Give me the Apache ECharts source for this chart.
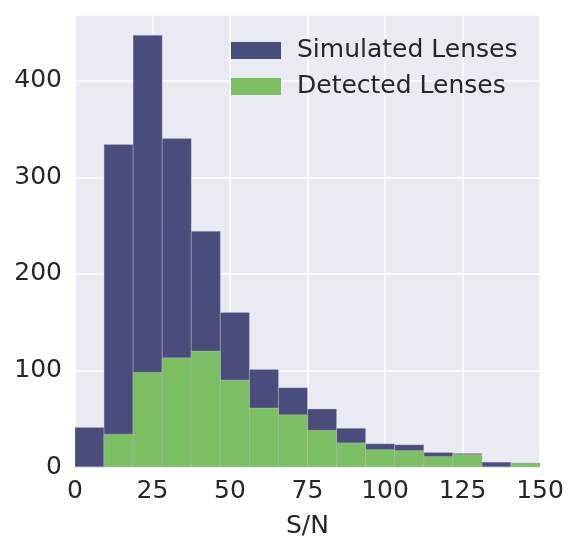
<!DOCTYPE html>
<html>
<head>
<meta charset="utf-8">
<script src="https://cdn.jsdelivr.net/npm/echarts@6/dist/echarts.min.js"></script>
<style>
html, body { margin: 0; padding: 0; background: #fff; }
#chart { width: 579px; height: 554px; }
</style>
</head>
<body>
<div id="chart"></div>
<script>
// bin edges (S/N), 16 bins from 0 to 150
var binEdges = [0, 9.375, 18.75, 28.125, 37.5, 46.875, 56.25, 65.625, 75, 84.375, 93.75, 103.125, 112.5, 121.875, 131.25, 140.625, 150];
// counts per bin
var simulated = [41, 334, 447, 340, 244, 160, 101, 82, 60, 40, 24, 23, 15, 14, 5, 4];
var detected  = [0, 34, 98, 113, 120, 90, 61, 54, 38, 25, 18, 17, 11, 13, 0, 4];
var xTicks = [0, 25, 50, 75, 100, 125, 150];
var yTicks = [0, 100, 200, 300, 400];

var FONT = 'DejaVu Sans';
var PURPLE = '#4a4c7c';
var GREEN = '#7dbf63';

function toBins(counts) {
    var out = [];
    for (var i = 0; i < counts.length; i++) {
        out.push([binEdges[i], binEdges[i + 1], counts[i]]);
    }
    return out;
}

function renderBar(color) {
    return function (params, api) {
        var p0 = api.coord([api.value(0), api.value(2)]);
        var p1 = api.coord([api.value(1), 0]);
        return {
            type: 'rect',
            shape: { x: p0[0], y: p0[1], width: p1[0] - p0[0], height: p1[1] - p0[1] },
            style: { fill: color, stroke: 'rgba(200,200,215,0.6)', lineWidth: 0.6 }
        };
    };
}

var option = {
    animation: false,
    backgroundColor: '#ffffff',
    grid: { left: 75, right: 39, top: 15, bottom: 87, backgroundColor: '#eaeaf2', show: true, borderWidth: 0 },
    legend: {
        left: 226, top: 33,
        orient: 'vertical',
        itemWidth: 50, itemHeight: 17, itemGap: 11,
        icon: 'rect',
        textStyle: { fontFamily: FONT, fontSize: 25, color: '#262626', padding: [0, 0, 0, 11] },
        data: ['Simulated Lenses', 'Detected Lenses']
    },
    xAxis: {
        type: 'value', min: 0, max: 150, interval: 25,
        name: 'S/N', nameLocation: 'middle', nameGap: 47,
        nameTextStyle: { fontFamily: FONT, fontSize: 25, color: '#262626' },
        axisLine: { show: false }, axisTick: { show: false },
        axisLabel: {
            fontFamily: FONT, fontSize: 25, color: '#262626', margin: 12,
            formatter: function (v) { return xTicks.indexOf(v) >= 0 ? String(v) : ''; }
        },
        splitLine: { show: true, lineStyle: { color: '#ffffff', width: 1.5 } }
    },
    yAxis: {
        type: 'value', min: 0, max: 468, interval: 100,
        axisLine: { show: false }, axisTick: { show: false },
        axisLabel: {
            fontFamily: FONT, fontSize: 25, color: '#262626', margin: 13,
            showMaxLabel: false,
            formatter: function (v) { return yTicks.indexOf(v) >= 0 ? String(v) : ''; }
        },
        splitLine: { show: true, lineStyle: { color: '#ffffff', width: 1.5 } }
    },
    series: [
        {
            name: 'Simulated Lenses', type: 'custom',
            itemStyle: { color: PURPLE },
            renderItem: renderBar(PURPLE),
            encode: { x: [0, 1], y: 2 },
            data: toBins(simulated)
        },
        {
            name: 'Detected Lenses', type: 'custom',
            itemStyle: { color: GREEN },
            renderItem: renderBar(GREEN),
            encode: { x: [0, 1], y: 2 },
            data: toBins(detected)
        }
    ]
};

var myChart = echarts.init(document.getElementById('chart'));
myChart.setOption(option);
</script>
</body>
</html>
